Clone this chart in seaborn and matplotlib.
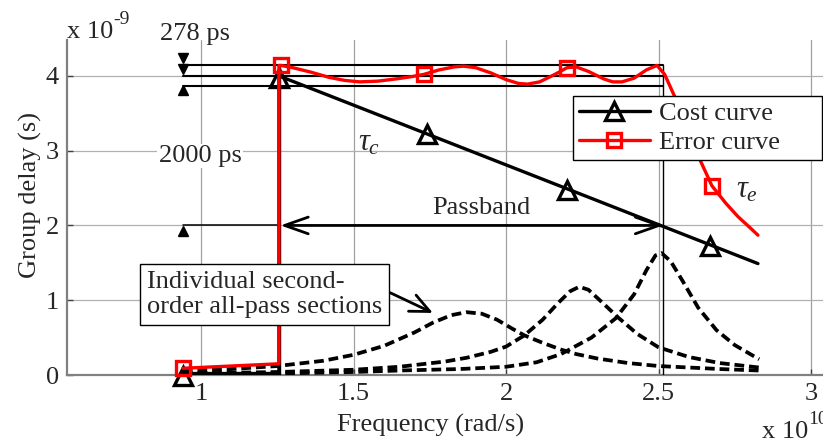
import numpy as np
import pandas as pd
import matplotlib
matplotlib.use("Agg")
import matplotlib.pyplot as plt
from matplotlib.lines import Line2D
from matplotlib.patches import FancyArrowPatch
import seaborn as sns

# ---- data (frequency in 1e10 rad/s, group delay in 1e-9 s) ----
cost_x = [0.94, 1.255, 1.255, 2.826]
cost_y = [0.02, 0.02, 4.0, 1.49]
cost_mx = [0.94, 1.255, 1.74, 2.20, 2.67]
cost_my = [-0.02, 3.97, 3.22, 2.48, 1.73]

err_x = [0.94, 1.255, 1.255, 1.262, 1.30, 1.36, 1.42, 1.47, 1.52, 1.58, 1.64, 1.69,
         1.73, 1.78, 1.83, 1.86, 1.90, 1.95, 2.00, 2.04, 2.07, 2.11, 2.16, 2.20,
         2.23, 2.27, 2.32, 2.35, 2.38, 2.42, 2.46, 2.495, 2.52, 2.54, 2.56, 2.60,
         2.63, 2.675, 2.72, 2.76, 2.80, 2.826]
err_y = [0.09, 0.15, 4.14, 4.14, 4.11, 4.05, 3.98, 3.94, 3.92, 3.93, 3.96, 3.99,
         4.02, 4.08, 4.12, 4.13, 4.11, 4.04, 3.95, 3.90, 3.89, 3.92, 4.02, 4.11,
         4.12, 4.06, 3.96, 3.92, 3.92, 3.97, 4.08, 4.14, 4.02, 3.84, 3.66, 3.26,
         2.93, 2.53, 2.30, 2.12, 1.97, 1.87]
err_mx = [0.94, 1.262, 1.73, 2.20, 2.675]
err_my = [0.09, 4.14, 4.02, 4.11, 2.53]

sec1_x = [0.94, 1.1, 1.25, 1.4, 1.5, 1.6, 1.7, 1.76, 1.82, 1.87, 1.92, 1.97, 2.02,
          2.06, 2.12, 2.18, 2.23, 2.3, 2.4, 2.5, 2.6, 2.7, 2.83]
sec1_y = [0.05, 0.08, 0.12, 0.19, 0.27, 0.39, 0.57, 0.70, 0.80, 0.84, 0.82, 0.74, 0.62,
          0.53, 0.43, 0.34, 0.28, 0.22, 0.16, 0.12, 0.10, 0.08, 0.06]
sec2_x = [0.94, 1.25, 1.5, 1.65, 1.8, 1.87, 1.95, 2.0, 2.06, 2.12, 2.17, 2.21, 2.24,
          2.27, 2.31, 2.37, 2.43, 2.5, 2.6, 2.7, 2.83]
sec2_y = [0.02, 0.04, 0.07, 0.11, 0.18, 0.23, 0.31, 0.38, 0.53, 0.74, 0.96, 1.12, 1.18,
          1.14, 0.99, 0.76, 0.55, 0.37, 0.24, 0.16, 0.10]
sec3_x = [0.94, 1.25, 1.5, 1.65, 1.85, 2.0, 2.1, 2.18, 2.28, 2.36, 2.42, 2.46, 2.49,
          2.51, 2.54, 2.58, 2.63, 2.69, 2.75, 2.83]
sec3_y = [0.01, 0.02, 0.04, 0.06, 0.08, 0.11, 0.17, 0.28, 0.50, 0.76, 1.08, 1.40, 1.60,
          1.63, 1.52, 1.25, 0.90, 0.60, 0.40, 0.21]

# passband and delay reference levels
band_lo, band_hi = 1.26, 2.515
ref_x0 = 0.94
ref_levels = [4.139, 4.0, 3.861]
mid_level = 2.0

xticks = [1, 1.5, 2, 2.5, 3]
xtick_labels = ["1", "1.5", "2", "2.5", "3"]
yticks = [0, 1, 2, 3, 4]

# ---- style ----
sns.set_theme(style="white")
plt.rcParams["font.family"] = ["Liberation Serif", "DejaVu Serif"]
plt.rcParams["mathtext.fontset"] = "custom"
plt.rcParams["mathtext.rm"] = "Liberation Serif"
plt.rcParams["mathtext.it"] = "Liberation Serif:italic"
FS = 19

fig = plt.figure(figsize=(8.23, 4.44), dpi=100)
ax = fig.add_axes([67 / 823, 69 / 444, 774.5 / 823, 335 / 444])
ax.set_xlim(0.56, 3.1)
ax.set_ylim(0, 4.48)

# grid
for xv in xticks:
    ax.axvline(xv, color="#a0a0a0", lw=0.9, zorder=0)
for yv in yticks[1:]:
    ax.axhline(yv, color="#b0b0b0", lw=0.9, zorder=0)

# individual all-pass section delays
for sx, sy in [(sec1_x, sec1_y), (sec2_x, sec2_y), (sec3_x, sec3_y)]:
    sns.lineplot(x=sx, y=sy, ax=ax, estimator=None, sort=False, color="black",
                 lw=2.7, linestyle=(0, (2.6, 1.3)), zorder=3)

# delay reference lines
for lv in ref_levels:
    ax.plot([ref_x0, band_hi], [lv, lv], color="black", lw=1.5, zorder=4)
ax.plot([band_lo, band_lo], [0, ref_levels[0]], color="black", lw=1.0, zorder=4)
ax.plot([band_hi, band_hi], [0, ref_levels[0]], color="black", lw=1.0, zorder=4)
ax.plot([ref_x0, band_lo], [mid_level, mid_level], color="black", lw=1.1, zorder=4)

# dimension markers
ax.plot([ref_x0, ref_x0], [4.24, 4.09], ls="none", marker="v", ms=7, color="black",
        clip_on=False, zorder=5)
ax.plot([ref_x0, ref_x0], [3.81, 1.93], ls="none", marker="^", ms=7, color="black",
        clip_on=False, zorder=5)

# cost curve
sns.lineplot(x=cost_x, y=cost_y, ax=ax, estimator=None, sort=False, color="black",
             lw=2.4, zorder=5)
ax.plot(cost_mx, cost_my, ls="none", marker="^", ms=13, mfc="none", mec="black",
        mew=2.4, clip_on=False, zorder=6)

# error curve
sns.lineplot(x=err_x, y=err_y, ax=ax, estimator=None, sort=False, color="#ff0000",
             lw=2.4, zorder=7)
ax.plot(err_mx, err_my, ls="none", marker="s", ms=10, mfc="none", mec="#ff0000",
        mew=2.4, clip_on=False, zorder=8)

# passband arrow
ax.add_patch(FancyArrowPatch((band_lo, mid_level), (band_hi, mid_level),
                             arrowstyle="<->,head_length=0.85,head_width=0.3",
                             mutation_scale=20, lw=2.0, color="black",
                             shrinkA=0, shrinkB=0, zorder=6))
ax.text(1.92, 2.23, "Passband", fontsize=FS, ha="center", va="center", zorder=9)

# annotation texts
ax.text(0.98, 4.56, "278 ps", fontsize=FS, ha="center", va="center", clip_on=False)
ax.text(0.997, 2.93, "2000 ps", fontsize=FS, ha="center", va="center",
        bbox=dict(facecolor="white", edgecolor="none", pad=1), zorder=2)
ax.text(1.55, 3.1, r"$\tau_c$", fontsize=FS + 3, ha="center", va="center", zorder=9)
ax.text(2.79, 2.48, r"$\tau_e$", fontsize=FS + 3, ha="center", va="center", zorder=9)

ax.text(0.822, 1.08, "Individual second-\norder all-pass sections", fontsize=FS,
        ha="left", va="center", linespacing=1.2, zorder=9,
        bbox=dict(facecolor="white", edgecolor="black", lw=1.0,
                  boxstyle="square,pad=0.25"))
ax.add_patch(FancyArrowPatch((1.62, 1.10), (1.76, 0.83),
                             arrowstyle="->,head_length=0.7,head_width=0.32",
                             mutation_scale=20, lw=2.0, color="black",
                             shrinkA=0, shrinkB=0, zorder=9))

# axes styling
for side in ["top", "right"]:
    ax.spines[side].set_visible(False)
for side in ["left", "bottom"]:
    ax.spines[side].set_color("#808080")
    ax.spines[side].set_linewidth(1.6)
ax.set_xticks(xticks)
ax.set_xticklabels(xtick_labels)
ax.set_yticks(yticks)
ax.tick_params(axis="both", direction="in", length=4, width=1, color="#404040",
               labelsize=FS, pad=6, bottom=True, left=True)

fig.text(431 / 823, 1 - 425 / 444, "Frequency (rad/s)", fontsize=FS,
         ha="center", va="center")
fig.text(30 / 823, 1 - 195 / 444, "Group delay (s)", fontsize=FS, rotation=90,
         ha="center", va="center")
# axis multipliers
fig.text(67 / 823, 1 - 38 / 444, "x 10", fontsize=FS, ha="left", va="baseline")
fig.text(113 / 823, 1 - 24 / 444, "-9", fontsize=14, ha="left", va="baseline")
fig.text(762 / 823, 1 - 438 / 444, "x 10", fontsize=FS, ha="left", va="baseline")
fig.text(808 / 823, 1 - 424 / 444, "10", fontsize=14, ha="left", va="baseline")

# legend
handles = [
    Line2D([], [], color="black", lw=2.4, marker="^", ms=13, mfc="none", mec="black", mew=2.4),
    Line2D([], [], color="#ff0000", lw=2.4, marker="s", ms=10, mfc="none", mec="#ff0000", mew=2.4),
]
leg = ax.legend(handles, ["Cost curve", "Error curve"], loc="upper left",
                bbox_to_anchor=(573 / 823, 1 - 160 / 444, 249 / 823, 64 / 444),
                bbox_transform=fig.transFigure, mode="expand",
                fontsize=FS, frameon=True, fancybox=False, framealpha=1,
                edgecolor="black", borderaxespad=0, borderpad=0.22,
                handlelength=2.7, handletextpad=0.35, labelspacing=0.2)
leg.get_frame().set_linewidth(1.0)
leg.set_zorder(20)

fig.savefig("out.png", dpi=100)
